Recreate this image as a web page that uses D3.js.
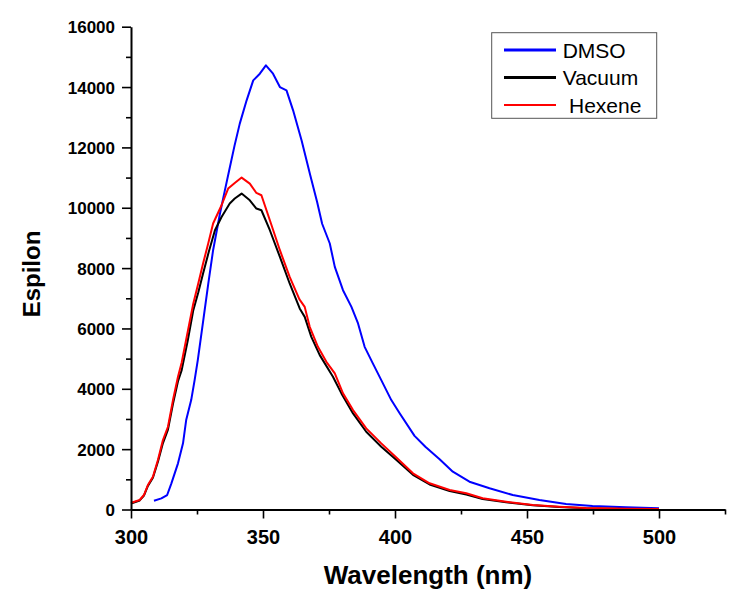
<!DOCTYPE html>
<html>
<head>
<meta charset="utf-8">
<script src="https://cdn.jsdelivr.net/npm/d3@7/dist/d3.min.js"></script>
<style>
  html, body { margin: 0; padding: 0; background: #ffffff; }
  svg { display: block; }
  text { font-family: "Liberation Sans", Arial, sans-serif; }
</style>
</head>
<body>
<svg id="chart" width="748" height="590"></svg>
<script>
// ---- Data ----
const seriesNames = ["DMSO", "Vacuum", "Hexene"];
const seriesColors = ["#0000ff", "#000000", "#ff0000"];

const dmsoX = [308.7, 311.5, 313.7, 315.3, 317.8, 319.7, 320.9, 322.8, 324.1, 325.3, 327.5, 329.3, 331.1, 333.7, 335.5, 337.2, 339.2, 341.2, 343.8, 346.3, 348.8, 351.1, 353.8, 356.4, 358.9, 361.4, 364.6, 367.9, 370.5, 372.4, 375.3, 377.2, 380.3, 383.5, 386.0, 388.5, 391.6, 394.8, 398.6, 401.7, 407.4, 411.5, 416.9, 421.9, 428.2, 435.8, 444.6, 454.7, 464.8, 474.8, 487.5, 500.0];
const dmsoY = [291, 370, 480, 867, 1530, 2192, 2964, 3626, 4288, 4950, 6350, 7500, 8593, 9808, 10550, 11242, 12050, 12788, 13560, 14222, 14443, 14719, 14443, 14001, 13891, 13229, 12235, 11080, 10190, 9470, 8815, 8040, 7268, 6715, 6166, 5391, 4841, 4288, 3626, 3195, 2440, 2080, 1665, 1252, 921, 702, 480, 315, 182, 116, 73, 40];

const vacuumX = [300.0, 303.3, 304.9, 306.4, 308.3, 310.2, 312.1, 314.0, 315.9, 317.8, 319.2, 321.5, 323.6, 325.5, 327.3, 329.5, 331.8, 334.3, 337.4, 339.3, 341.9, 345.0, 347.5, 349.4, 352.6, 356.4, 360.1, 363.9, 365.8, 368.3, 371.5, 376.5, 379.7, 384.1, 389.1, 394.8, 399.8, 406.8, 413.1, 420.7, 427.0, 433.2, 442.1, 452.2, 462.2, 472.3, 487.5, 500.0];
const vacuumY = [200, 300, 460, 780, 1050, 1580, 2200, 2650, 3500, 4250, 4619, 5600, 6606, 7200, 7821, 8550, 9255, 9695, 10139, 10305, 10470, 10248, 9974, 9917, 9255, 8371, 7490, 6662, 6384, 5722, 5116, 4397, 3848, 3185, 2576, 2079, 1695, 1150, 830, 610, 500, 350, 240, 140, 85, 45, 20, 15];

const hexeneX = [300.1, 303.3, 304.9, 306.4, 308.3, 310.2, 312.1, 314.0, 315.9, 317.8, 319.2, 321.5, 323.6, 325.5, 327.3, 329.2, 331.1, 334.3, 336.8, 339.3, 341.9, 345.0, 347.5, 349.4, 352.6, 356.4, 360.1, 363.8, 365.8, 367.7, 370.8, 374.0, 377.2, 380.3, 384.1, 389.1, 394.8, 400.5, 406.8, 413.1, 420.7, 427.0, 433.2, 442.1, 452.2, 462.2, 472.3, 487.5, 500.0];
const hexeneY = [225, 315, 480, 811, 1086, 1639, 2301, 2742, 3626, 4397, 4870, 5900, 6828, 7500, 8152, 8800, 9477, 10083, 10636, 10821, 11000, 10801, 10490, 10414, 9586, 8593, 7709, 6965, 6715, 6053, 5391, 4894, 4510, 3848, 3295, 2689, 2192, 1720, 1199, 868, 646, 536, 371, 258, 149, 93, 50, 26, 20];

const xMajorTicks = [300, 350, 400, 450, 500];
const xMinorTicks = [325, 375, 425, 475, 525];
const yMajorTicks = [0, 2000, 4000, 6000, 8000, 10000, 12000, 14000, 16000];
const yMinorTicks = [1000, 3000, 5000, 7000, 9000, 11000, 13000, 15000];

const xTitle = "Wavelength (nm)";
const yTitle = "Espilon";

// ---- Scales ----
const svg = d3.select("#chart");
const x = d3.scaleLinear().domain([300, 525]).range([131, 725]);
const y = d3.scaleLinear().domain([0, 16000]).range([509.5, 26.7]);

// ---- Curves ----
const series = [
  { name: seriesNames[0], color: seriesColors[0], xs: dmsoX, ys: dmsoY },
  { name: seriesNames[1], color: seriesColors[1], xs: vacuumX, ys: vacuumY },
  { name: seriesNames[2], color: seriesColors[2], xs: hexeneX, ys: hexeneY }
];
const lineGen = d3.line().x(d => x(d[0])).y(d => y(d[1])).curve(d3.curveLinear);

series.forEach(s => {
  const pts = s.xs.map((v, i) => [v, s.ys[i]]);
  svg.append("path")
    .datum(pts)
    .attr("d", lineGen)
    .attr("fill", "none")
    .attr("stroke", s.color)
    .attr("stroke-width", 2)
    .attr("stroke-linejoin", "round");
});

// ---- Axes ----
const xAxis = svg.append("g").attr("transform", "translate(0,509.5)")
  .call(d3.axisBottom(x).tickValues(xMajorTicks).tickSize(9).tickSizeOuter(0).tickFormat(d3.format("d")));
svg.append("g").attr("transform", "translate(0,509.5)")
  .call(d3.axisBottom(x).tickValues(xMinorTicks).tickSize(5).tickSizeOuter(0).tickFormat(""))
  .select(".domain").remove();

const yAxis = svg.append("g").attr("transform", "translate(131,0)")
  .call(d3.axisLeft(y).tickValues(yMajorTicks).tickSize(9).tickSizeOuter(0).tickFormat(d3.format("d")));
svg.append("g").attr("transform", "translate(131,0)")
  .call(d3.axisLeft(y).tickValues(yMinorTicks).tickSize(5).tickSizeOuter(0).tickFormat(""))
  .select(".domain").remove();

svg.selectAll(".domain").attr("stroke", "#000").attr("stroke-width", 2);
svg.selectAll(".tick line").attr("stroke", "#000").attr("stroke-width", 1.6);

xAxis.selectAll(".tick text")
  .attr("font-family", "Liberation Sans, Arial, sans-serif")
  .attr("font-size", 20).attr("font-weight", "bold").attr("fill", "#000")
  .attr("dy", null).attr("y", 34);

yAxis.selectAll(".tick text")
  .attr("font-family", "Liberation Sans, Arial, sans-serif")
  .attr("font-size", 17).attr("font-weight", "bold").attr("fill", "#000")
  .attr("x", -16).attr("dy", "0.35em");

// ---- Axis titles ----
svg.append("text")
  .attr("x", 428).attr("y", 584)
  .attr("text-anchor", "middle")
  .attr("font-size", 26).attr("font-weight", "bold")
  .text(xTitle);

svg.append("text")
  .attr("transform", "translate(40,274) rotate(-90)")
  .attr("text-anchor", "middle")
  .attr("font-size", 24).attr("font-weight", "bold")
  .text(yTitle);

// ---- Legend ----
const legend = svg.append("g");
legend.append("rect")
  .attr("x", 491.7).attr("y", 32.7).attr("width", 165).attr("height", 85.6)
  .attr("fill", "#fff").attr("stroke", "#555").attr("stroke-width", 1);
const legendWidths = [3, 3, 2];
const legendTextX = [562.7, 562.7, 569];
series.forEach((s, i) => {
  const cy = 50 + i * 27.5;
  legend.append("line")
    .attr("x1", 504).attr("x2", 556).attr("y1", cy).attr("y2", cy)
    .attr("stroke", s.color).attr("stroke-width", legendWidths[i]);
  legend.append("text")
    .attr("x", legendTextX[i]).attr("y", cy + 7.5)
    .attr("font-size", 21).attr("fill", "#000")
    .text(s.name);
});
</script>
</body>
</html>
